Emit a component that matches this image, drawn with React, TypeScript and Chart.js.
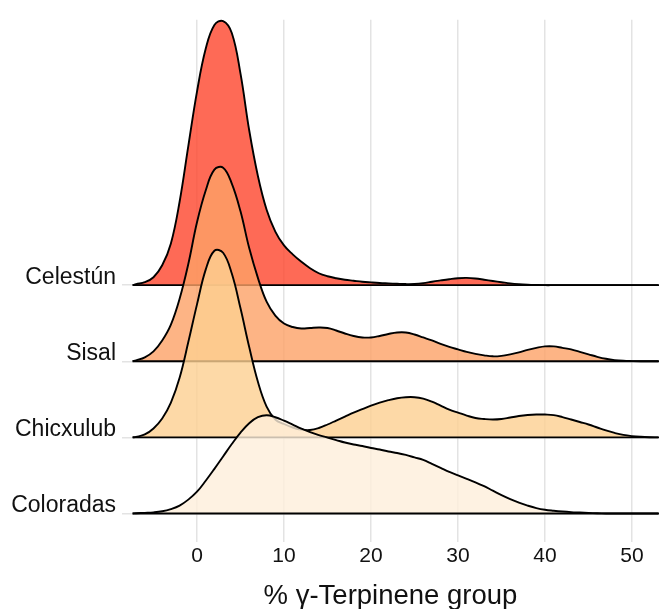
import { useEffect, useRef } from "react";
import { Chart, registerables } from "chart.js";

Chart.register(...registerables);

// Ridge categories, bottom to top
const CATEGORIES = ["Coloradas", "Chicxulub", "Sisal", "Celestún"];
const X_TICKS = [0, 10, 20, 30, 40, 50];
const X_MIN = -8.62;
const X_MAX = 53.1;
const Y_MIN = -0.374;
const Y_MAX = 6.486;

// evaluation grid of the density curves (% γ-Terpinene group)
const X_VALUES = [
  -7.4, -7, -6, -5, -4, -3, -2, -1, 0, 1, 2, 3, 4, 5, 6, 7, 8, 9, 10, 11, 12, 13, 14, 15, 16, 17, 18, 19, 20,
  21, 22, 23, 24, 25, 26, 27, 28, 29, 30, 31, 32, 33, 34, 35, 36, 37, 38, 39, 40, 41, 42, 43, 44, 45, 46,
  47, 48, 49, 50, 51, 52, 53,
];

// ridge heights (relative density readings)
const CELESTUN = [
  0, 1, 3, 8, 20, 42, 84, 140, 195, 238, 262, 266, 254, 213, 156, 110, 76, 54, 40, 31, 23.5, 17, 12, 9, 7,
  5.5, 4.5, 3.5, 2.8, 2.2, 1.8, 1.4, 1.1, 1.2, 2, 3.5, 4.8, 6, 7, 7.3, 6.7, 5.5, 4.2, 3, 1.8, 1, 0.5, 0.2,
  0, 0, 0, 0, 0, 0, 0, 0, 0, 0, 0, 0, 0, 0,
];
const SISAL = [
  0, 1, 4, 10, 21, 37, 63, 98, 140, 172, 193, 195, 179, 151, 114, 84, 60, 46, 38, 34.5, 33, 33.5, 34, 33.5,
  31, 28, 25.5, 24, 24, 25.5, 27.5, 29, 29, 27, 24, 21, 17.5, 14.5, 12, 9.5, 7.5, 6, 5, 5.5, 7, 9, 11.5,
  13.5, 15, 15, 13.5, 12, 9.5, 7, 4.5, 2.5, 1.2, 0.5, 0.2, 0, 0, 0,
];
const CHICXULUB = [
  0, 0.5, 3, 9, 19, 35, 60, 96, 134, 169, 188, 186, 165, 130, 91, 56, 31, 18, 13.5, 10, 7.8, 7.5, 9.5, 13,
  17, 21, 25, 28.5, 32, 35, 37.5, 39.5, 40.5, 40.5, 39, 36, 32, 28, 25, 22, 19.5, 18.5, 18, 18.5, 20, 21.5,
  22.5, 23, 23, 22.5, 20.5, 18, 15.5, 13, 10, 7, 4.5, 2.5, 1.3, 0.6, 0.2, 0,
];
const COLORADAS = [
  0, 0.3, 0.7, 1.2, 2.3, 4.5, 8, 14, 22, 33, 45, 57.5, 70, 81.5, 91, 97, 99, 97, 93.5, 89.5, 85.5, 82, 79,
  76.5, 74, 71.5, 69.5, 68, 66, 64.5, 62.5, 61, 59, 56.5, 54, 50, 46, 42, 38.5, 35, 31.5, 27.5, 23, 18.5,
  14.5, 11, 8, 5.5, 3.8, 2.8, 2, 1.4, 1, 0.6, 0.3, 0.1, 0, 0, 0, 0, 0, 0,
];
const SERIES = [COLORADAS, CHICXULUB, SISAL, CELESTUN];
const FILLS = [
  "rgba(254,239,219,0.8)",
  "rgba(253,207,145,0.8)",
  "rgba(252,161,103,0.8)",
  "rgba(254,69,44,0.8)",
];
const RIDGE_SCALE = 1 / 76.67;

const FONT = "'Liberation Sans', Arial, Helvetica, sans-serif";

export default function App() {
  const ref = useRef<HTMLCanvasElement | null>(null);

  useEffect(() => {
    document.body.style.margin = "0";
    const canvas = ref.current;
    if (!canvas) return;

    const datasets: any[] = [];
    SERIES.forEach((vals, k) => {
      datasets.push({
        label: CATEGORIES[k] + " baseline",
        data: [
          { x: X_VALUES[0], y: k },
          { x: X_MAX, y: k },
        ],
        borderColor: "#000",
        borderWidth: 1.9,
        pointRadius: 0,
        fill: false,
        clip: false,
      });
      datasets.push({
        label: CATEGORIES[k],
        data: X_VALUES.map((x, i) => ({ x, y: k + vals[i] * RIDGE_SCALE })),
        borderColor: "#000",
        borderWidth: 1.9,
        backgroundColor: FILLS[k],
        pointRadius: 0,
        tension: 0.4,
        fill: { value: k },
        clip: false,
      });
    });

    const chart = new Chart(canvas, {
      type: "line",
      data: { datasets },
      options: {
        animation: false,
        responsive: false,
        devicePixelRatio: 1,
        layout: { padding: { top: 16, left: 0, right: 0, bottom: 0 } },
        plugins: {
          legend: { display: false },
          tooltip: { enabled: false },
        },
        scales: {
          x: {
            type: "linear",
            min: X_MIN,
            max: X_MAX,
            afterBuildTicks: (s: any) => {
              s.ticks = X_TICKS.map((v) => ({ value: v }));
            },
            afterFit: (s: any) => {
              s.height = 67;
            },
            grid: { color: "#e3e3e3", lineWidth: 1.5, drawTicks: false },
            border: { display: false },
            ticks: {
              color: "#111",
              padding: 2,
              maxRotation: 0,
              autoSkip: false,
              font: { family: FONT, size: 21 },
            },
            title: {
              display: true,
              text: "% γ-Terpinene group",
              color: "#111",
              font: { family: FONT, size: 27.5, lineHeight: 1 },
              padding: { top: 0, bottom: -1 },
            },
          },
          y: {
            type: "linear",
            min: Y_MIN,
            max: Y_MAX,
            afterBuildTicks: (s: any) => {
              s.ticks = CATEGORIES.map((_, i) => ({ value: i }));
            },
            afterFit: (s: any) => {
              s.width = 122;
            },
            grid: { color: "#e3e3e3", lineWidth: 1.5, drawTicks: false },
            border: { display: false },
            ticks: {
              color: "#111",
              padding: 6,
              labelOffset: -8,
              autoSkip: false,
              font: { family: FONT, size: 23 },
              callback: (v: any) => CATEGORIES[v] ?? "",
            },
          },
        },
      },
    });
    return () => chart.destroy();
  }, []);

  return <canvas ref={ref} width={659} height={609} style={{ display: "block" }} />;
}
